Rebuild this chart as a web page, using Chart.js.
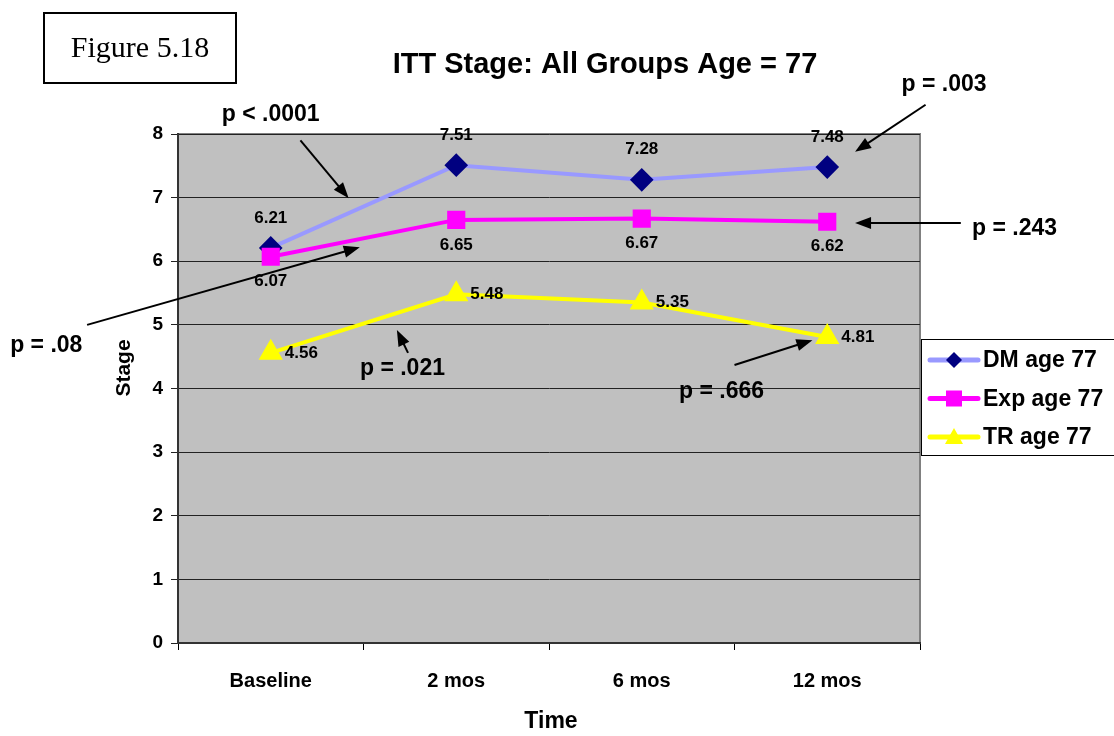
<!DOCTYPE html>
<html lang="en">
<head>
  <meta charset="UTF-8" />
  <title>ITT Stage: All Groups Age = 77</title>
  <script src="https://cdn.jsdelivr.net/npm/chart.js@4"></script>
  <style>
    body {
      margin: 0;
      background: #fff;
      font-family: 'Liberation Sans', Arial, sans-serif;
    }
    .wrap {
      position: relative;
      width: 1114px;
      height: 736px;
    }
    .figbox {
      position: absolute;
      left: 43px;
      top: 12px;
      width: 190px;
      height: 68px;
      border: 2px solid #000;
      font-family: 'Liberation Serif', 'Times New Roman', serif;
      font-size: 30px;
      line-height: 66px;
      text-align: center;
      color: #000;
    }
  </style>
</head>
<body>
  <div class="wrap">
    <canvas id="stageChart" width="1114" height="736"></canvas>
    <div class="figbox">Figure 5.18</div>
  </div>

  <script>
    // data
    const timeLabels = ['Baseline', '2 mos', '6 mos', '12 mos'];
    const dmAge77 = [6.21, 7.51, 7.28, 7.48];
    const expAge77 = [6.07, 6.65, 6.67, 6.62];
    const trAge77 = [4.56, 5.48, 5.35, 4.81];
    const stageTicks = [0, 1, 2, 3, 4, 5, 6, 7, 8];

    // p-value notes: text spot and arrow, in (category index, stage) units
    const noteTexts = ['p < .0001', 'p = .003', 'p = .243', 'p = .08', 'p = .021', 'p = .666'];
    const noteTextAt = [[0.0, 8.3], [3.63, 8.77], [4.01, 6.52], [-1.21, 4.67], [0.71, 4.31], [2.43, 3.95]];
    const noteArrowFrom = [[0.16, 7.9], [3.53, 8.46], [3.72, 6.6], [-0.99, 5.0], [0.74, 4.56], [2.5, 4.37]];
    const noteArrowTo = [[0.42, 6.99], [3.15, 7.72], [3.15, 6.6], [0.48, 6.22], [0.68, 4.92], [2.92, 4.76]];

    const FONT = "'Liberation Sans', Arial, sans-serif";

    function arrow(ctx, x1, y1, x2, y2) {
      const a = Math.atan2(y2 - y1, x2 - x1);
      const len = 16, w = 6;
      ctx.beginPath();
      ctx.moveTo(x1, y1);
      ctx.lineTo(x2 - Math.cos(a) * len * 0.8, y2 - Math.sin(a) * len * 0.8);
      ctx.stroke();
      ctx.beginPath();
      ctx.moveTo(x2, y2);
      ctx.lineTo(x2 - Math.cos(a) * len - Math.sin(a) * w, y2 - Math.sin(a) * len + Math.cos(a) * w);
      ctx.lineTo(x2 - Math.cos(a) * len + Math.sin(a) * w, y2 - Math.sin(a) * len - Math.cos(a) * w);
      ctx.closePath();
      ctx.fill();
    }

    const excelLook = {
      id: 'excelLook',
      beforeDraw(chart) {
        const { ctx, chartArea: a } = chart;
        ctx.save();
        ctx.fillStyle = '#c0c0c0';
        ctx.fillRect(a.left, a.top, a.right - a.left, a.bottom - a.top);
        ctx.strokeStyle = '#808080';
        ctx.lineWidth = 2;
        ctx.strokeRect(a.left, a.top, a.right - a.left, a.bottom - a.top);
        ctx.restore();
      },
      afterDatasetsDraw(chart) {
        const { ctx, chartArea: a, scales } = chart;
        ctx.save();
        ctx.fillStyle = '#000';
        ctx.font = 'bold 17px ' + FONT;

        // value labels
        chart.data.datasets.forEach((ds, i) => {
          const meta = chart.getDatasetMeta(i);
          meta.data.forEach((pt, j) => {
            const txt = ds.data[j].toFixed(2);
            if (i === 0) {
              ctx.textAlign = 'center'; ctx.textBaseline = 'middle';
              ctx.fillText(txt, pt.x, pt.y - 30);
            } else if (i === 1) {
              ctx.textAlign = 'center'; ctx.textBaseline = 'middle';
              ctx.fillText(txt, pt.x, pt.y + 25);
            } else {
              ctx.textAlign = 'left'; ctx.textBaseline = 'middle';
              ctx.fillText(txt, pt.x + 14, pt.y);
            }
          });
        });

        // p-value notes
        ctx.font = 'bold 23px ' + FONT;
        ctx.textAlign = 'center';
        ctx.textBaseline = 'middle';
        ctx.strokeStyle = '#000';
        ctx.lineWidth = 2;
        const px = v => scales.x.getPixelForValue(v);
        const py = v => scales.y.getPixelForValue(v);
        noteTexts.forEach((t, k) => {
          ctx.fillText(t, px(noteTextAt[k][0]), py(noteTextAt[k][1]));
          arrow(ctx, px(noteArrowFrom[k][0]), py(noteArrowFrom[k][1]),
                px(noteArrowTo[k][0]), py(noteArrowTo[k][1]));
        });

        // title and axis titles
        ctx.font = 'bold 29px ' + FONT;
        ctx.fillText('ITT Stage: All Groups Age = 77', 605, 65);
        ctx.font = 'bold 23px ' + FONT;
        ctx.fillText('Time', 551, 722);
        ctx.font = 'bold 21px ' + FONT;
        ctx.translate(124, 368);
        ctx.rotate(-Math.PI / 2);
        ctx.fillText('Stage', 0, 0);
        ctx.restore();

        // legend box
        ctx.save();
        const lx = a.right + 1, ly = 339;
        ctx.fillStyle = '#fff';
        ctx.fillRect(lx, ly, 200, 116);
        ctx.strokeStyle = '#000';
        ctx.lineWidth = 1;
        ctx.strokeRect(lx + 0.5, ly + 0.5, 200, 116);
        chart.data.datasets.forEach((ds, i) => {
          const y = ly + 21 + i * 38.5;
          ctx.strokeStyle = ds.borderColor;
          ctx.lineWidth = 5;
          ctx.lineCap = 'round';
          ctx.beginPath();
          ctx.moveTo(lx + 9, y);
          ctx.lineTo(lx + 57, y);
          ctx.stroke();
          ctx.fillStyle = ds.pointBackgroundColor;
          const cx = lx + 33;
          ctx.beginPath();
          if (i === 0) {
            ctx.moveTo(cx, y - 8); ctx.lineTo(cx + 8, y); ctx.lineTo(cx, y + 8); ctx.lineTo(cx - 8, y);
          } else if (i === 1) {
            ctx.rect(cx - 8, y - 8, 16, 16);
          } else {
            ctx.moveTo(cx, y - 9); ctx.lineTo(cx + 9, y + 7); ctx.lineTo(cx - 9, y + 7);
          }
          ctx.closePath();
          ctx.fill();
          ctx.fillStyle = '#000';
          ctx.font = 'bold 23px ' + FONT;
          ctx.textAlign = 'left';
          ctx.textBaseline = 'middle';
          ctx.fillText(ds.label, lx + 62, y + 1);
        });
        ctx.restore();
      }
    };

    new Chart(document.getElementById('stageChart'), {
      type: 'line',
      data: {
        labels: timeLabels,
        datasets: [
          {
            label: 'DM age 77',
            data: dmAge77,
            order: 3,
            borderColor: '#9999ff',
            pointBackgroundColor: '#000080',
            pointBorderColor: '#000080',
            pointStyle: 'rectRot',
            pointRadius: 9,
            borderWidth: 4
          },
          {
            label: 'Exp age 77',
            data: expAge77,
            order: 2,
            borderColor: '#ff00ff',
            pointBackgroundColor: '#ff00ff',
            pointBorderColor: '#ff00ff',
            pointStyle: 'rect',
            pointRadius: 10,
            borderWidth: 4
          },
          {
            label: 'TR age 77',
            data: trAge77,
            order: 1,
            borderColor: '#ffff00',
            pointBackgroundColor: '#ffff00',
            pointBorderColor: '#ffff00',
            pointStyle: 'triangle',
            pointRadius: 10,
            borderWidth: 4
          }
        ]
      },
      options: {
        responsive: false,
        animation: false,
        layout: { padding: { left: 0, top: 134, right: 194, bottom: 0 } },
        plugins: {
          legend: { display: false },
          tooltip: { enabled: false }
        },
        scales: {
          x: {
            offset: true,
            grid: {
              offset: true,
              drawOnChartArea: false,
              drawTicks: true,
              tickLength: 7,
              color: '#000'
            },
            border: { color: '#333', width: 2 },
            ticks: {
              color: '#000',
              padding: 19,
              font: { family: FONT, size: 20, weight: 'bold' }
            },
            afterFit(scale) { scale.height = 93; }
          },
          y: {
            min: 0,
            max: 8,
            afterBuildTicks(scale) { scale.ticks = stageTicks.map(v => ({ value: v })); },
            grid: { color: '#222', lineWidth: 1, tickLength: 7 },
            border: { color: '#333', width: 2 },
            ticks: {
              color: '#000',
              padding: 8,
              font: { family: FONT, size: 19, weight: 'bold' }
            },
            afterFit(scale) { scale.width = 178; }
          }
        }
      },
      plugins: [excelLook]
    });
  </script>
</body>
</html>
